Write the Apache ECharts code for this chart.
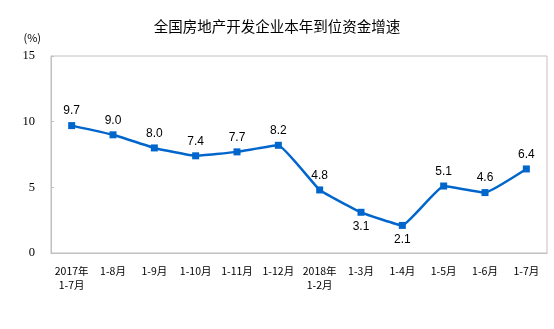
<!DOCTYPE html>
<html>
<head>
<meta charset="utf-8">
<script src="https://cdn.jsdelivr.net/npm/echarts@6/dist/echarts.min.js"></script>
<style>
  html, body { margin: 0; padding: 0; background: #fff; }
  #chart { width: 554px; height: 329px; }
</style>
</head>
<body>
<div id="chart"></div>
<script>
// Period labels (cumulative months)
const categories = ['2017年\n1-7月', '1-8月', '1-9月', '1-10月', '1-11月', '1-12月',
  '2018年\n1-2月', '1-3月', '1-4月', '1-5月', '1-6月', '1-7月'];
// Year-on-year growth of funds in place (%)
const growth = [9.7, 9.0, 8.0, 7.4, 7.7, 8.2, 4.8, 3.1, 2.1, 5.1, 4.6, 6.4];
// Points whose value label sits beneath the marker
const labelBelow = ['1-3月', '1-4月'];
const yTicks = [0, 5, 10, 15];

const chart = echarts.init(document.getElementById('chart'), null, { renderer: 'canvas' });

const seriesData = growth.map((v, i) => ({
  value: v,
  label: { position: labelBelow.includes(categories[i]) ? 'bottom' : 'top' }
}));

chart.setOption({
  animation: false,
  backgroundColor: '#fff',
  title: {
    text: '全国房地产开发企业本年到位资金增速',
    left: 'center',
    top: 14,
    textStyle: { fontFamily: 'Noto Sans CJK SC', fontSize: 14.5, fontWeight: 'normal', color: '#000' }
  },
  grid: {
    left: 51, right: 7, top: 56, bottom: 76,
    show: true, borderColor: '#c0c0c0', borderWidth: 1, backgroundColor: 'transparent'
  },
  xAxis: {
    type: 'category',
    data: categories,
    boundaryGap: true,
    axisLine: { lineStyle: { color: '#c0c0c0' } },
    axisTick: { inside: true, length: 4, lineStyle: { color: '#c0c0c0' } },
    axisLabel: {
      interval: 0, margin: 11, lineHeight: 14,
      fontFamily: 'Noto Sans CJK SC', fontSize: 10.5, color: '#000'
    }
  },
  yAxis: {
    type: 'value',
    min: yTicks[0], max: yTicks[yTicks.length - 1], interval: 5,
    name: '(%)',
    nameLocation: 'end',
    nameGap: 13,
    nameTextStyle: { fontFamily: 'Noto Sans CJK SC', fontSize: 11, color: '#000', align: 'right', padding: [0, 10, 0, 0] },
    axisLine: { show: true, lineStyle: { color: '#c0c0c0' } },
    axisTick: { show: true, inside: true, length: 3, lineStyle: { color: '#c0c0c0' } },
    splitLine: { show: false },
    axisLabel: { margin: 16, fontFamily: 'Liberation Serif', fontSize: 12.5, color: '#000' }
  },
  series: [{
    type: 'line',
    data: seriesData,
    smooth: 0.1,
    symbol: 'rect',
    symbolSize: 7,
    itemStyle: { color: '#0066cc' },
    lineStyle: { color: '#0066cc', width: 2.5 },
    label: {
      show: true,
      distance: 5,
      formatter: p => p.value.toFixed(1),
      fontFamily: 'Liberation Sans', fontSize: 12, color: '#000'
    }
  }]
});
</script>
</body>
</html>
